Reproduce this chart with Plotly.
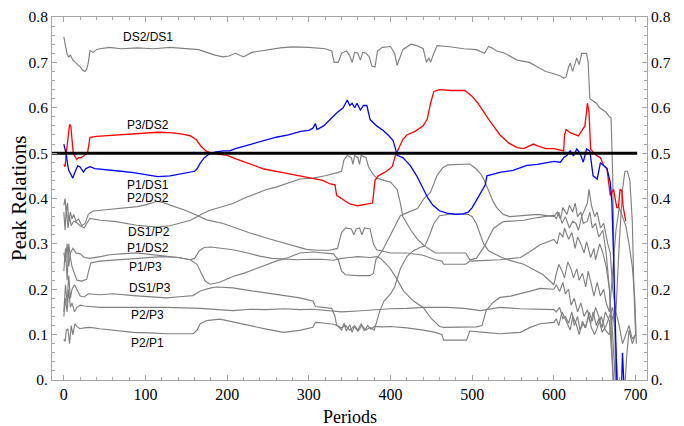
import plotly.graph_objects as go

# ---------------- data (period, value) ----------------
x_ticks = [0, 100, 200, 300, 400, 500, 600, 700]
y_ticks = [0, 0.1, 0.2, 0.3, 0.4, 0.5, 0.6, 0.7, 0.8]
y_tick_text = ["0.", "0.1", "0.2", "0.3", "0.4", "0.5", "0.6", "0.7", "0.8"]

ds2_ds1 = [(0,0.756),(2,0.74),(4,0.718),(6,0.712),(8,0.716),(11,0.705),(14,0.70),(17,0.697),(20,0.69),
    (23,0.683),(26,0.68),(28,0.685),(30,0.70),(32,0.726),(36,0.722),(40,0.728),(44,0.73),(56,0.733),(70,0.73),
    (90,0.732),(110,0.73),(130,0.733),(150,0.73),(165,0.728),(175,0.722),(185,0.716),(195,0.712),(202,0.714),
    (210,0.72),(220,0.712),(230,0.722),(250,0.728),(265,0.732),(280,0.734),(300,0.733),(320,0.73),(328,0.725),
    (331,0.70),(336,0.70),(340,0.72),(346,0.725),(350,0.715),(353,0.70),(356,0.722),(360,0.72),(363,0.705),
    (366,0.722),(370,0.72),(374,0.712),(377,0.692),(381,0.69),(384,0.725),(390,0.733),(400,0.735),(405,0.72),
    (408,0.693),(411,0.71),(415,0.728),(425,0.74),(432,0.737),(440,0.73),(444,0.70),(447,0.71),(449,0.70),
    (453,0.72),(457,0.737),(470,0.735),(490,0.73),(505,0.728),(515,0.72),(520,0.735),(524,0.732),(530,0.725),
    (540,0.72),(555,0.705),(570,0.70),(580,0.69),(590,0.68),(600,0.675),(608,0.67),(612,0.665),(615,0.668),
    (618,0.69),(620,0.698),(623,0.68),(626,0.70),(628,0.71),(631,0.695),(634,0.72),(640,0.72),(642,0.70),
    (644,0.62),(648,0.615),(652,0.61),(656,0.60),(660,0.595),(664,0.59),(668,0.58),(670,0.578),(672,0.45),
    (674,0.2),(676,-0.05)]

p3_ds2 = [(0,0.475),(1.5,0.47),(3,0.50),(5,0.537),(7,0.563),(8.5,0.56),(10,0.53),(11.5,0.5),(13.5,0.493),
    (16,0.486),(18,0.49),(21,0.49),(24,0.493),(27,0.5),(29,0.5),(30.5,0.515),(32,0.535),(40,0.537),(50,0.538),
    (60,0.54),(80,0.542),(100,0.544),(115,0.546),(130,0.545),(145,0.542),(155,0.538),(162,0.53),(168,0.515),
    (174,0.505),(180,0.50),(190,0.497),(200,0.495),(210,0.488),(230,0.475),(245,0.465),(265,0.458),(285,0.451),
    (305,0.445),(317,0.44),(326,0.432),(332,0.43),(334,0.407),(340,0.40),(350,0.388),(360,0.384),(370,0.387),
    (378,0.39),(381,0.44),(385,0.45),(395,0.46),(402,0.47),(406,0.495),(410,0.51),(415,0.53),(420,0.54),
    (430,0.548),(440,0.56),(445,0.575),(449,0.61),(453,0.636),(460,0.64),(475,0.638),(491,0.638),(500,0.625),
    (507,0.61),(514,0.59),(520,0.575),(526,0.56),(534,0.54),(545,0.522),(555,0.512),(563,0.51),(570,0.515),
    (575,0.52),(580,0.516),(590,0.51),(600,0.51),(608,0.506),(612,0.505),(613,0.54),(615,0.552),(620,0.545),
    (625,0.542),(630,0.538),(635,0.552),(638,0.56),(641,0.61),(643,0.59),(645,0.509),(648,0.502),(653,0.494),
    (657,0.49),(661,0.473),(665,0.466),(669,0.407),(673,0.42),(677,0.38),(679,0.38),(681,0.42),(683,0.418),
    (685,0.38),(688,0.35)]

p1_ds1 = [(0,0.52),(1.5,0.51),(3,0.497),(5,0.47),(6,0.462),(8,0.455),(10,0.448),(11,0.445),(13,0.455),
    (15.6,0.468),(17,0.472),(19.6,0.47),(22,0.462),(24,0.458),(27,0.466),(32,0.47),(38,0.466),(44,0.465),
    (56,0.464),(70,0.46),(85,0.457),(100,0.452),(115,0.448),(130,0.45),(145,0.455),(155,0.458),(160,0.46),
    (163,0.465),(167,0.478),(172,0.49),(178,0.498),(185,0.502),(195,0.505),(203,0.505),(210,0.51),(220,0.515),
    (230,0.52),(245,0.528),(260,0.535),(275,0.54),(290,0.548),(300,0.55),(305,0.555),(308,0.565),(310,0.552),
    (318,0.56),(326,0.575),(335,0.59),(342,0.60),(347,0.617),(350,0.605),(353,0.61),(356,0.60),(359,0.61),
    (363,0.595),(367,0.605),(371,0.605),(375,0.574),(383,0.56),(391,0.55),(397,0.54),(403,0.528),(406,0.51),
    (408,0.495),(415,0.49),(424,0.473),(432,0.45),(440,0.42),(446,0.40),(452,0.385),(460,0.373),(469,0.368),
    (480,0.365),(489,0.366),(495,0.37),(500,0.38),(506,0.40),(514,0.425),(516,0.43),(518,0.45),(525,0.453),
    (535,0.458),(550,0.462),(567,0.473),(580,0.475),(590,0.478),(600,0.482),(608,0.48),(612,0.49),(616,0.495),
    (620,0.505),(624,0.494),(628,0.509),(632,0.50),(636,0.48),(640,0.509),(644,0.505),(648,0.45),(653,0.443),
    (657,0.479),(661,0.472),(665,0.466),(669,0.436),(671,0.392),(673,0.276),(675,0.131),(677,-0.02),
    (680,-0.2),(684,0.06),(688,-0.1)]

p2_ds2 = [(0,0.385),(1.5,0.40),(3,0.37),(4.5,0.39),(6,0.35),(8,0.37),(10,0.355),(12,0.365),(15,0.35),
    (18,0.355),(22,0.34),(26,0.345),(30,0.365),(35,0.372),(45,0.374),(55,0.376),(65,0.378),(75,0.379),
    (90,0.382),(100,0.386),(114,0.394),(120,0.392),(130,0.386),(140,0.38),(150,0.373),(163,0.363),(175,0.353),
    (195,0.345),(210,0.335),(228,0.324),(250,0.312),(269,0.302),(285,0.294),(297,0.288),(310,0.286),
    (325,0.286),(335,0.29),(340,0.325),(345,0.335),(352,0.333),(355,0.32),(358,0.333),(362,0.335),(365,0.32),
    (368,0.335),(375,0.333),(379,0.30),(383,0.287),(400,0.28),(420,0.28),(440,0.275),(455,0.265),(463,0.262),
    (465,0.255),(492,0.255),(497,0.262),(510,0.263),(534,0.265),(559,0.27),(571,0.283),(583,0.298),(600,0.31),
    (604,0.30),(607,0.325),(611,0.315),(613,0.335),(618,0.31),(622,0.325),(626,0.29),(629,0.315),(633,0.30),
    (637,0.28),(640,0.305),(645,0.27),(649,0.29),(651,0.265),(656,0.30),(660,0.28),(664,0.25),(668,0.2),
    (672,0.1),(675,0.0),(678,-0.05)]

ds1_p2 = [(0,0.37),(1.5,0.33),(3,0.38),(5,0.335),(7,0.36),(9,0.34),(12,0.35),(15,0.348),(20,0.34),
    (25,0.335),(28,0.345),(32,0.356),(45,0.352),(64,0.349),(89,0.341),(114,0.337),(130,0.34),(145,0.347),
    (155,0.352),(163,0.36),(170,0.367),(179,0.374),(190,0.38),(207,0.389),(220,0.40),(235,0.41),(248,0.42),
    (260,0.425),(275,0.435),(289,0.443),(305,0.445),(320,0.45),(335,0.457),(340,0.46),(343,0.485),(347,0.495),
    (352,0.49),(354,0.475),(356,0.495),(360,0.49),(362,0.475),(364,0.495),(370,0.49),(373,0.47),(378,0.455),
    (383,0.445),(392,0.44),(400,0.436),(408,0.42),(412,0.39),(415,0.36),(425,0.33),(433,0.31),(442,0.295),
    (455,0.28),(465,0.28),(492,0.28),(497,0.265),(505,0.268),(515,0.295),(526,0.334),(538,0.349),(563,0.352),
    (580,0.358),(600,0.363),(603,0.355),(606,0.37),(610,0.345),(614,0.36),(619,0.335),(623,0.35),(627,0.345),
    (630,0.33),(634,0.36),(638,0.375),(641,0.39),(643,0.42),(646,0.385),(650,0.36),(653,0.37),(657,0.335),
    (661,0.345),(666,0.30),(669,0.28),(672,0.2),(676,0.15),(680,0.30),(684,0.42),(687,0.46),(690,0.46),
    (693,0.44),(696,0.35),(698,0.2),(700,0.1)]

p1_ds2 = [(0,0.28),(2,0.26),(4,0.30),(6,0.25),(8,0.28),(11,0.29),(15,0.28),(20,0.278),(25,0.27),(32,0.268),
    (45,0.272),(56,0.276),(70,0.278),(89,0.28),(105,0.277),(122,0.273),(140,0.27),(154,0.265),(160,0.268),
    (166,0.285),(172,0.292),(180,0.293),(195,0.29),(207,0.287),(225,0.28),(240,0.273),(255,0.268),(269,0.266),
    (285,0.265),(302,0.266),(315,0.266),(330,0.264),(340,0.268),(350,0.27),(360,0.272),(375,0.27),(383,0.272),
    (388,0.268),(399,0.247),(407,0.225),(412,0.21),(416,0.196),(428,0.174),(440,0.16),(450,0.135),(460,0.118),
    (465,0.116),(493,0.116),(505,0.117),(512,0.12),(517,0.153),(525,0.17),(534,0.182),(547,0.185),(559,0.19),
    (571,0.196),(583,0.202),(600,0.20),(603,0.21),(607,0.195),(611,0.215),(614,0.19),(618,0.2),(621,0.165),
    (625,0.18),(629,0.15),(633,0.17),(637,0.14),(641,0.155),(645,0.125),(648,0.15),(652,0.12),(655,0.135),
    (659,0.105),(664,0.12),(668,0.14),(672,0.16),(675,0.1),(678,0.0),(681,-0.05)]

p1_p3 = [(0,0.24),(2,0.29),(4,0.22),(6,0.30),(8,0.27),(10,0.25),(13,0.235),(16,0.22),(22,0.218),(28,0.222),
    (31,0.245),(33,0.258),(44,0.262),(60,0.264),(80,0.268),(100,0.27),(120,0.272),(140,0.27),(155,0.265),
    (163,0.255),(168,0.235),(173,0.218),(179,0.211),(190,0.215),(207,0.228),(220,0.235),(235,0.245),
    (248,0.254),(260,0.262),(275,0.27),(289,0.28),(305,0.282),(320,0.28),(330,0.278),(336,0.265),(340,0.24),
    (345,0.232),(360,0.23),(375,0.23),(379,0.235),(382,0.265),(390,0.285),(400,0.32),(412,0.362),(422,0.37),
    (433,0.378),(441,0.40),(449,0.414),(457,0.451),(464,0.468),(470,0.474),(485,0.476),(497,0.476),(505,0.465),
    (510,0.455),(514,0.443),(518,0.425),(522,0.407),(526,0.392),(530,0.38),(538,0.365),(546,0.36),(560,0.362),
    (580,0.365),(600,0.36),(604,0.37),(608,0.355),(611,0.38),(616,0.365),(619,0.385),(623,0.37),(626,0.39),
    (629,0.36),(633,0.37),(636,0.345),(641,0.35),(644,0.37),(647,0.335),(651,0.345),(655,0.315),(660,0.33),
    (664,0.28),(668,0.2),(671,0.05),(674,-0.05)]

ds1_p3 = [(0,0.15),(2,0.21),(4,0.17),(6,0.23),(8,0.18),(10,0.20),(13,0.21),(16,0.2),(20,0.185),(25,0.183),
    (30,0.19),(44,0.188),(60,0.19),(85,0.186),(105,0.183),(126,0.181),(145,0.184),(158,0.186),(167,0.196),
    (180,0.203),(187,0.205),(207,0.203),(228,0.197),(248,0.192),(270,0.186),(289,0.181),(300,0.176),
    (305,0.174),(308,0.162),(320,0.16),(328,0.158),(332,0.14),(334,0.12),(340,0.115),(345,0.12),(350,0.11),
    (355,0.118),(360,0.108),(365,0.12),(370,0.11),(375,0.116),(380,0.11),(383,0.13),(387,0.153),(392,0.174),
    (400,0.19),(405,0.205),(412,0.245),(420,0.272),(428,0.285),(436,0.292),(442,0.295),(448,0.32),(453,0.345),
    (460,0.362),(475,0.366),(495,0.365),(500,0.36),(505,0.345),(510,0.32),(514,0.30),(520,0.285),(530,0.275),
    (536,0.27),(547,0.263),(563,0.255),(587,0.232),(600,0.21),(603,0.235),(606,0.255),(610,0.24),(613,0.225),
    (617,0.26),(621,0.245),(624,0.225),(628,0.245),(631,0.22),(635,0.235),(639,0.205),(642,0.24),(646,0.21),
    (649,0.185),(653,0.215),(657,0.185),(661,0.2),(664,0.17),(668,0.15),(672,0.25),(676,0.33),(680,0.38),
    (684,0.36),(688,0.34),(692,0.30),(696,0.25),(699,0.18),(701,0.08)]

p2_p3 = [(0,0.14),(2,0.18),(4,0.15),(6,0.2),(8,0.16),(10,0.17),(13,0.15),(16,0.16),(20,0.165),(25,0.163),
    (32,0.162),(44,0.16),(85,0.16),(126,0.16),(167,0.158),(207,0.153),(228,0.156),(248,0.155),(270,0.157),
    (289,0.155),(305,0.156),(320,0.153),(340,0.15),(360,0.152),(380,0.155),(400,0.157),(420,0.158),(440,0.16),
    (470,0.16),(490,0.158),(510,0.153),(534,0.16),(559,0.157),(583,0.155),(600,0.155),(603,0.15),(607,0.16),
    (611,0.135),(614,0.14),(618,0.125),(622,0.15),(625,0.12),(629,0.14),(632,0.11),(636,0.125),(639,0.115),
    (643,0.15),(647,0.13),(651,0.16),(655,0.14),(659,0.115),(663,0.15),(668,0.13),(671,0.05),(674,-0.05),
    (686,-0.05),(689,0.05),(692,0.11),(696,0.08),(700,0.1)]

p2_p1 = [(0,0.09),(1.5,0.085),(3,0.11),(5,0.112),(7,0.08),(9,0.12),(11,0.1),(13.5,0.124),(16,0.118),
    (19.6,0.113),(25,0.115),(32,0.116),(44,0.113),(60,0.11),(85,0.105),(105,0.104),(126,0.102),(145,0.102),
    (158.5,0.102),(163,0.11),(167,0.124),(175,0.131),(191,0.134),(207,0.128),(228,0.119),(248,0.112),
    (269,0.105),(290,0.11),(305,0.116),(308,0.127),(320,0.125),(330,0.123),(335,0.12),(340,0.11),(343,0.125),
    (346,0.108),(350,0.122),(353,0.105),(356,0.12),(360,0.11),(364,0.124),(368,0.108),(372,0.12),(376,0.112),
    (380,0.118),(390,0.117),(400,0.118),(420,0.115),(440,0.11),(455,0.105),(463,0.10),(465,0.088),(493,0.088),
    (497,0.108),(515,0.105),(534,0.102),(559,0.105),(571,0.116),(583,0.124),(600,0.127),(603,0.135),(606,0.12),
    (610,0.15),(614,0.135),(617,0.12),(620,0.11),(623,0.14),(627,0.125),(631,0.10),(635,0.13),(638,0.115),
    (643,0.14),(646,0.115),(650,0.10),(654,0.12),(658,0.14),(663,0.11),(668,0.10),(672,0.14),(676,0.15),
    (680,0.12),(684,0.08),(688,0.1),(692,0.12),(696,0.09),(700,0.1)]

ref_line_x = [-15, 702]
ref_line_y = [0.5, 0.5]

label_text = ["DS2/DS1", "P3/DS2", "P1/DS1", "P2/DS2", "DS1/P2", "P1/DS2", "P1/P3", "DS1/P3", "P2/P3", "P2/P1"]
label_x = [103, 103, 103, 103, 104, 103, 100, 105, 102, 102]
label_y = [0.756, 0.562, 0.429, 0.402, 0.327, 0.29, 0.249, 0.203, 0.144, 0.081]

GRAY = "#808080"
series = [
    (ds2_ds1, GRAY), (p2_ds2, GRAY), (ds1_p2, GRAY), (p1_ds2, GRAY), (p1_p3, GRAY),
    (ds1_p3, GRAY), (p2_p3, GRAY), (p2_p1, GRAY), (p3_ds2, "#ff0000"), (p1_ds1, "#0000ff"),
]

fig = go.Figure()
for pairs, color in series:
    fig.add_trace(go.Scatter(
        x=[p[0] for p in pairs], y=[p[1] for p in pairs], mode="lines",
        line=dict(color=color, width=1.15 if color == GRAY else 1.3), showlegend=False, hoverinfo="skip"))

fig.add_trace(go.Scatter(x=ref_line_x, y=ref_line_y, mode="lines", yaxis="y2",
                         line=dict(color="black", width=3), showlegend=False, hoverinfo="skip"))

SERIF = "Liberation Serif, Times New Roman, serif"
SANS = "Liberation Sans, Arial, sans-serif"

for t, lx, ly in zip(label_text, label_x, label_y):
    fig.add_annotation(x=lx, y=ly, xref="x", yref="y", text=t, showarrow=False,
                       font=dict(family=SANS, size=12, color="black"),
                       xanchor="center", yanchor="middle")

fig.add_annotation(x=0.5, y=-0.1008, xref="paper", yref="paper", text="Periods", showarrow=False,
                   font=dict(family=SERIF, size=18, color="black"), xanchor="center", yanchor="middle")
fig.add_annotation(x=-0.0565, y=0.5, xref="paper", yref="paper", text="Peak Relations", showarrow=False,
                   textangle=-90, font=dict(family=SERIF, size=21, color="black"),
                   xanchor="center", yanchor="middle")

axis_col = "#a6a6a6"
# the page body keeps an 8px margin, so the figure is sized and offset to land on the same pixels
fig.update_layout(
    width=668, height=418,
    margin=dict(l=44, r=29, t=9, b=46, autoexpand=False),
    paper_bgcolor="white", plot_bgcolor="white",
    xaxis=dict(range=[-14.5, 714], tickvals=x_ticks, showgrid=False, zeroline=False, automargin=False,
               showline=True, linecolor=axis_col, linewidth=1, mirror="ticks",
               ticks="inside", ticklen=5, tickcolor=axis_col, ticklabeloverflow="allow",
               minor=dict(ticks="inside", ticklen=3, dtick=20, tickcolor=axis_col, showgrid=False),
               tickfont=dict(family=SERIF, size=16, color="black")),
    yaxis=dict(range=[0, 0.8], tickvals=y_ticks, ticktext=y_tick_text, showgrid=False, zeroline=False,
               showline=True, linecolor=axis_col, linewidth=1, automargin=False,
               ticks="inside", ticklen=5, tickcolor=axis_col, ticklabeloverflow="allow",
               minor=dict(ticks="inside", ticklen=3, dtick=0.02, tickcolor=axis_col, showgrid=False),
               tickfont=dict(family=SERIF, size=15.5, color="black")),
    yaxis2=dict(range=[0, 0.8], overlaying="y", side="right", tickvals=y_ticks, ticktext=y_tick_text,
                showgrid=False, zeroline=False, showline=True, linecolor=axis_col, linewidth=1,
                automargin=False, ticks="inside", ticklen=5, tickcolor=axis_col, ticklabeloverflow="allow",
                minor=dict(ticks="inside", ticklen=3, dtick=0.02, tickcolor=axis_col, showgrid=False),
                tickfont=dict(family=SERIF, size=15.5, color="black")),
)

fig.write_html("out.html")
